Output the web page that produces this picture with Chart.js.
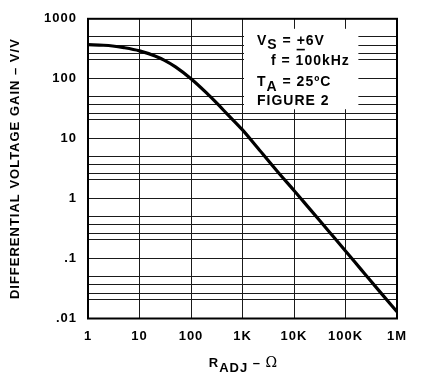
<!DOCTYPE html>
<html><head><meta charset="utf-8">
<script src="https://cdn.jsdelivr.net/npm/chart.js@4/dist/chart.umd.min.js"></script>
<style>html,body{margin:0;padding:0;background:#fff;}#wrap{width:423px;height:381px;position:relative;}</style>
</head><body><div id="wrap"><canvas id="c"></canvas></div>
<script>
// ---- data ----
const rAdj = [1, 2, 3, 5, 10, 20, 30, 50, 100, 200, 300, 500, 1000, 2000, 5000, 10000, 20000, 50000, 100000, 200000, 500000, 1000000];
const gain = [370, 362, 352, 330, 292, 240, 205, 158, 100, 58, 41, 26, 14, 6.9, 2.7, 1.37, 0.68, 0.27, 0.134, 0.066, 0.026, 0.013];

const xTickValues = [1, 10, 100, 1000, 10000, 100000, 1000000];
const xTickLabels = ['1', '10', '100', '1K', '10K', '100K', '1M'];
const yTickValues = [0.01, 0.1, 1, 10, 100, 1000];
const yTickLabels = ['.01', '.1', '1', '10', '100', '1000'];
const yMinorSteps = [2.1, 2.65, 3.65, 5.1];

const yTitle = 'DIFFERENTIAL VOLTAGE GAIN – V/V';
const xTitleMain = 'R', xTitleSub = 'ADJ', xTitleRest = ' – Ω';
const noteVs = ['V', 'S', ' = ', '+', '6V'];
const noteF = 'f = 100kHz';
const noteTa = ['T', 'A', ' = 25ºC'];
const noteFig = 'FIGURE 2';

const FONT = '"Liberation Sans", Arial, Helvetica, sans-serif';
Chart.defaults.font.family = FONT;

const yAllTicks = [];
yTickValues.forEach((d, i) => {
  yAllTicks.push(d);
  if (i < yTickValues.length - 1) yMinorSteps.forEach(m => yAllTicks.push(d * m));
});

const decor = {
  id: 'decor',
  beforeLayout(chart) { chart.ctx.letterSpacing = '1px'; },
  beforeDraw(chart) { chart.ctx.letterSpacing = '1px'; },
  beforeDatasetsDraw(chart) {
    const {ctx, chartArea: a, scales: {x, y}} = chart;
    ctx.save();
    // white note box over the grid
    const bl = x.getPixelForValue(1000) + 1.5;
    const br = x.getPixelForValue(Math.pow(10, 5.25));
    const bt = a.top + 10;
    const bb = y.getPixelForValue(31);
    ctx.fillStyle = '#fff';
    ctx.fillRect(bl, bt, br - bl, bb - bt);
    ctx.fillStyle = '#000';
    ctx.letterSpacing = '1px';
    ctx.textBaseline = 'alphabetic';
    ctx.textAlign = 'left';
    const big = 'bold 14px ' + FONT;
    const tx = bl + 13;
    // line 1
    let cx = tx, base = a.top + 26;
    ctx.font = big;
    ctx.fillText(noteVs[0], cx, base); cx += ctx.measureText(noteVs[0]).width;
    ctx.fillText(noteVs[1], cx, base + 4); cx += ctx.measureText(noteVs[1]).width;
    ctx.fillText(noteVs[2], cx, base); cx += ctx.measureText(noteVs[2]).width;
    const pw = ctx.measureText(noteVs[3]).width;
    ctx.fillText(noteVs[3], cx, base);
    ctx.fillRect(cx, base + 4, pw - 1, 1.6);
    cx += pw;
    ctx.fillText(noteVs[4], cx, base);
    // line 2
    ctx.fillText(noteF, tx + 14, a.top + 46);
    // line 3
    cx = tx; base = a.top + 67.5;
    ctx.fillText(noteTa[0], cx, base); cx += ctx.measureText(noteTa[0]).width;
    ctx.fillText(noteTa[1], cx, base + 5); cx += ctx.measureText(noteTa[1]).width;
    ctx.fillText(noteTa[2], cx, base);
    // line 4
    ctx.fillText(noteFig, tx, a.top + 86.5);
    ctx.restore();
  },
  afterDatasetsDraw(chart) {
    const {ctx, chartArea: a} = chart;
    ctx.save();
    ctx.strokeStyle = '#000';
    ctx.lineWidth = 2;
    ctx.strokeRect(a.left, a.top, a.right - a.left, a.bottom - a.top);
    ctx.restore();
  },
  afterDraw(chart) {
    const {ctx, chartArea: a} = chart;
    ctx.save();
    ctx.letterSpacing = '1px';
    ctx.fillStyle = '#000';
    ctx.textBaseline = 'alphabetic';
    ctx.textAlign = 'left';
    const bold = 'bold 13px ' + FONT;
    const thin = '14px "DejaVu Serif", serif';
    ctx.font = bold;
    const w1 = ctx.measureText(xTitleMain).width;
    const w2 = ctx.measureText(xTitleSub).width;
    const w3 = ctx.measureText(' – ').width;
    ctx.font = thin;
    const w4 = ctx.measureText('Ω').width;
    const total = w1 + w2 + w3 + w4;
    let cx = (a.left + a.right) / 2 + 1 - total / 2;
    const base = 367;
    ctx.font = bold;
    ctx.fillText(xTitleMain, cx, base); cx += w1;
    ctx.fillText(xTitleSub, cx, base + 5); cx += w2;
    ctx.fillText(' – ', cx, base); cx += w3;
    ctx.font = thin;
    ctx.fillText('Ω', cx, base);
    ctx.restore();
  }
};

const tickFont = {family: FONT, size: 13, weight: 'bold'};

new Chart(document.getElementById('c'), {
  type: 'line',
  data: {
    datasets: [{
      data: rAdj.map((r, i) => ({x: r, y: gain[i]})),
      borderColor: '#000',
      borderWidth: 3.2,
      pointRadius: 0,
      cubicInterpolationMode: 'monotone',
      fill: false
    }]
  },
  options: {
    responsive: true,
    maintainAspectRatio: false,
    animation: false,
    devicePixelRatio: 1,
    layout: {padding: {top: 10, right: 26, left: 0, bottom: 0}},
    plugins: {legend: {display: false}, tooltip: {enabled: false}},
    scales: {
      x: {
        type: 'logarithmic',
        min: 1, max: 1000000,
        afterBuildTicks: s => { s.ticks = xTickValues.map(v => ({value: v})); },
        afterFit: s => { s.height = 62.5; },
        ticks: {
          autoSkip: false, maxRotation: 0, padding: 10, color: '#000', font: tickFont,
          callback: (v, i) => xTickLabels[xTickValues.indexOf(v)] ?? ''
        },
        grid: {color: '#1a1a1a', lineWidth: 1, drawTicks: false},
        border: {display: false}
      },
      y: {
        type: 'logarithmic',
        min: 0.01, max: 1000,
        afterBuildTicks: s => { s.ticks = yAllTicks.map(v => ({value: v})); },
        afterFit: s => { s.width = 88; },
        ticks: {
          autoSkip: false, padding: 11, color: '#000', font: tickFont,
          callback: (v) => {
            const k = yTickValues.findIndex(t => Math.abs(t - v) / t < 1e-6);
            return k >= 0 ? yTickLabels[k] : '';
          }
        },
        grid: {color: '#1a1a1a', lineWidth: 1, drawTicks: false},
        border: {display: false},
        title: {display: true, text: yTitle, color: '#000', font: {family: FONT, size: 13, weight: 'bold'}, padding: {top: 8, bottom: 0}}
      }
    }
  },
  plugins: [decor]
});
</script></body></html>
